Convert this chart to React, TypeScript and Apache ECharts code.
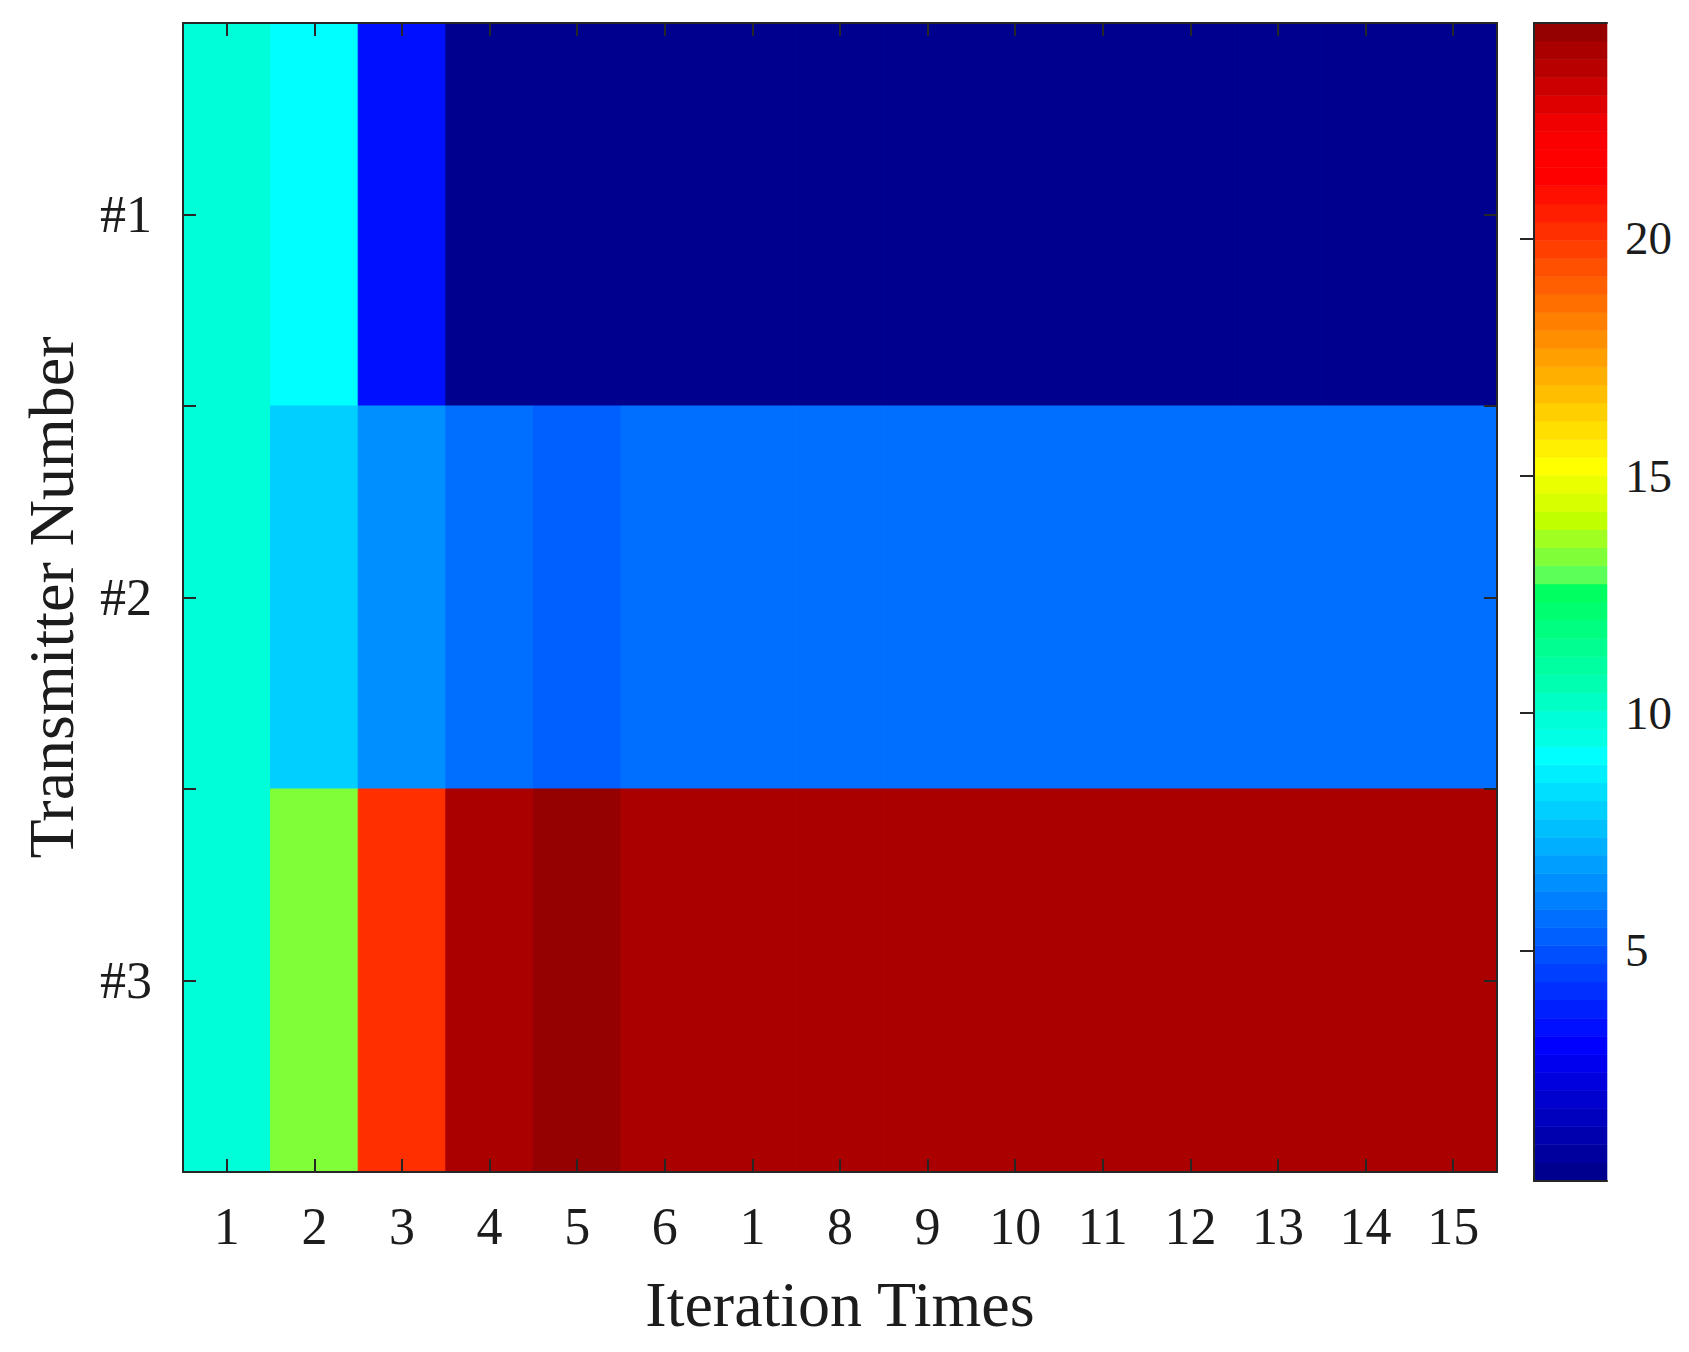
import React, { useEffect, useRef } from 'react';
import * as echarts from 'echarts';

// ---- data ----
const ITERATIONS = ['1', '2', '3', '4', '5', '6', '7', '8', '9', '10', '11', '12', '13', '14', '15'];
// tick labels as printed in the figure (the 7th tick prints as "1")
const ITER_TICK_LABELS = ['1', '2', '3', '4', '5', '6', '1', '8', '9', '10', '11', '12', '13', '14', '15'];
const TRANSMITTERS = ['#1', '#2', '#3'];

const TX1 = [10.0, 9.1, 3.4, 0.14, 0.14, 0.14, 0.14, 0.14, 0.14, 0.14, 0.14, 0.14, 0.14, 0.14, 0.14];
const TX2 = [10.0, 7.96, 6.43, 5.67, 5.29, 5.67, 5.67, 5.67, 5.67, 5.67, 5.67, 5.67, 5.67, 5.67, 5.67];
const TX3 = [10.0, 13.3, 20.1, 24.0, 24.54, 24.0, 24.0, 24.0, 24.0, 24.0, 24.0, 24.0, 24.0, 24.0, 24.0];

const COLOR_MIN = 0.14;
const COLOR_MAX = 24.54;
const COLORBAR_TICKS = [5, 10, 15, 20];

// 64-level colormap (bottom → top)
const COLORMAP = [
  '#00008F', '#00009F', '#0000AF', '#0000BF', '#0000CF', '#0000DF', '#0000EF', '#0000FF',
  '#000FFF', '#001FFF', '#002FFF', '#003FFF', '#004FFF', '#005FFF', '#006FFF', '#007FFF',
  '#008FFF', '#009FFF', '#00AFFF', '#00BFFF', '#00CFFF', '#00DFFF', '#00EFFF', '#00FFFF',
  '#00FFE4', '#00FFD8', '#00FFC4', '#00FFB0', '#00FFA0', '#00FF90', '#00FF80', '#00FF70',
  '#00FF60', '#5CFF58', '#80FF38', '#A0FF20', '#C0FF00', '#D8FF00', '#EAFF00', '#FFFF00',
  '#FFEF00', '#FFDF00', '#FFCF00', '#FFBF00', '#FFAF00', '#FF9F00', '#FF8F00', '#FF7F00',
  '#FF6F00', '#FF5F00', '#FF4F00', '#FF3F00', '#FF2F00', '#FF1F00', '#FF0F00', '#FF0000',
  '#FF0000', '#FA0000', '#F00000', '#DE0000', '#CC0000', '#B80000', '#AA0000', '#950000',
];

const FONT = '"Liberation Serif", "Times New Roman", serif';
const INK = '#1c1c1c';

export default function App() {
  const ref = useRef<HTMLDivElement>(null);

  useEffect(() => {
    if (!ref.current) return;
    const chart = echarts.init(ref.current, null, { renderer: 'svg' });

    const rows = [TX1, TX2, TX3];
    const heatData: number[][] = [];
    rows.forEach((row, r) => row.forEach((v, c) => heatData.push([c, r, v])));

    const step = (COLOR_MAX - COLOR_MIN) / COLORMAP.length;
    const pieces = COLORMAP.map((color, k) => {
      const p: any = { color };
      p.gte = k === 0 ? -1e9 : COLOR_MIN + k * step;
      if (k === COLORMAP.length - 1) p.lte = 1e9;
      else p.lt = COLOR_MIN + (k + 1) * step;
      return p;
    });
    const barData = COLORMAP.map((_, k) => [0, COLOR_MIN + k * step, COLOR_MIN + (k + 1) * step]);

    const frame = { show: true, lineStyle: { color: '#262626', width: 2 } };
    const tick = (align: boolean) => ({
      show: true,
      inside: true,
      length: 13,
      alignWithLabel: align,
      interval: 0,
      lineStyle: { color: '#262626', width: 2 },
    });
    const noLabel = { show: false };
    const noSplit = { show: false };

    chart.setOption({
      animation: false,
      backgroundColor: '#ffffff',
      grid: [
        { left: 183, top: 23, width: 1314, height: 1149, outerBoundsMode: 'none', containLabel: false },
        { left: 1534, top: 23, width: 73, height: 1158, outerBoundsMode: 'none', containLabel: false },
      ],
      xAxis: [
        {
          gridIndex: 0,
          type: 'category',
          data: ITERATIONS,
          position: 'bottom',
          z: 10,
          axisLine: frame,
          axisTick: tick(true),
          axisLabel: {
            interval: 0,
            formatter: (_v: string, i: number) => ITER_TICK_LABELS[i],
            fontFamily: FONT,
            fontSize: 52,
            color: INK,
            margin: 28,
          },
          splitLine: noSplit,
          name: 'Iteration Times',
          nameLocation: 'middle',
          nameGap: 100,
          nameTextStyle: { fontFamily: FONT, fontSize: 64, color: INK },
        },
        {
          gridIndex: 0,
          type: 'category',
          data: ITERATIONS,
          position: 'top',
          z: 10,
          axisLine: frame,
          axisTick: tick(true),
          axisLabel: noLabel,
          splitLine: noSplit,
        },
        {
          gridIndex: 1, type: 'value', min: 0, max: 1, position: 'bottom', z: 10,
          axisLine: frame, axisTick: { show: false }, axisLabel: noLabel, splitLine: noSplit,
        },
        {
          gridIndex: 1, type: 'value', min: 0, max: 1, position: 'top', z: 10,
          axisLine: frame, axisTick: { show: false }, axisLabel: noLabel, splitLine: noSplit,
        },
      ],
      yAxis: [
        {
          gridIndex: 0,
          type: 'category',
          data: TRANSMITTERS,
          inverse: true,
          position: 'left',
          z: 10,
          axisLine: frame,
          axisTick: tick(true),
          axisLabel: { fontFamily: FONT, fontSize: 52, color: INK, margin: 31 },
          splitLine: noSplit,
          name: 'Transmitter Number',
          nameLocation: 'middle',
          nameGap: 100,
          nameTextStyle: { fontFamily: FONT, fontSize: 64, color: INK },
        },
        {
          gridIndex: 0, type: 'category', data: TRANSMITTERS, inverse: true, position: 'left', z: 10,
          axisLine: { show: false }, axisTick: tick(false), axisLabel: noLabel, splitLine: noSplit,
        },
        {
          gridIndex: 0, type: 'category', data: TRANSMITTERS, inverse: true, position: 'right', z: 10,
          axisLine: frame, axisTick: tick(true), axisLabel: noLabel, splitLine: noSplit,
        },
        {
          gridIndex: 0, type: 'category', data: TRANSMITTERS, inverse: true, position: 'right', z: 10,
          axisLine: { show: false }, axisTick: tick(false), axisLabel: noLabel, splitLine: noSplit,
        },
        {
          gridIndex: 1,
          type: 'value',
          min: COLOR_MIN,
          max: COLOR_MAX,
          position: 'right',
          z: 10,
          axisLine: { show: true, lineStyle: { color: '#8a8a8a', width: 2 } },
          axisTick: {
            show: true,
            inside: true,
            length: 14,
            customValues: COLORBAR_TICKS,
            lineStyle: { color: '#262626', width: 2 },
          },
          axisLabel: {
            customValues: COLORBAR_TICKS,
            fontFamily: FONT,
            fontSize: 47,
            color: INK,
            margin: 18,
          },
          splitLine: noSplit,
        },
        {
          gridIndex: 1, type: 'value', min: COLOR_MIN, max: COLOR_MAX, position: 'left', z: 10,
          axisLine: frame, axisTick: { show: false }, axisLabel: noLabel, splitLine: noSplit,
        },
      ],
      visualMap: {
        type: 'piecewise',
        show: false,
        seriesIndex: 0,
        dimension: 2,
        pieces,
      },
      series: [
        {
          type: 'custom',
          name: 'cells',
          xAxisIndex: 0,
          yAxisIndex: 0,
          data: heatData,
          encode: { x: 0, y: 1 },
          renderItem: (_params: any, api: any) => {
            const center = api.coord([api.value(0), api.value(1)]);
            const size = api.size([1, 1]);
            const color = api.visual('color');
            return {
              type: 'rect',
              shape: {
                x: center[0] - size[0] / 2,
                y: center[1] - size[1] / 2,
                width: size[0],
                height: size[1],
              },
              style: { fill: color, stroke: color, lineWidth: 1 },
            };
          },
        },
        {
          type: 'custom',
          name: 'colorbar',
          xAxisIndex: 2,
          yAxisIndex: 4,
          data: barData,
          encode: { x: 0, y: [1, 2] },
          renderItem: (params: any, api: any) => {
            const lo = api.value(1);
            const hi = api.value(2);
            const p0 = api.coord([0, hi]);
            const p1 = api.coord([1, lo]);
            const color = COLORMAP[params.dataIndex];
            return {
              type: 'rect',
              shape: { x: p0[0], y: p0[1], width: p1[0] - p0[0], height: p1[1] - p0[1] },
              style: { fill: color, stroke: color, lineWidth: 0.6 },
            };
          },
        },
      ],
    });

    return () => chart.dispose();
  }, []);

  return (
    <div
      ref={ref}
      style={{ position: 'fixed', left: 0, top: 0, width: 1689, height: 1352, background: '#fff' }}
    />
  );
}
